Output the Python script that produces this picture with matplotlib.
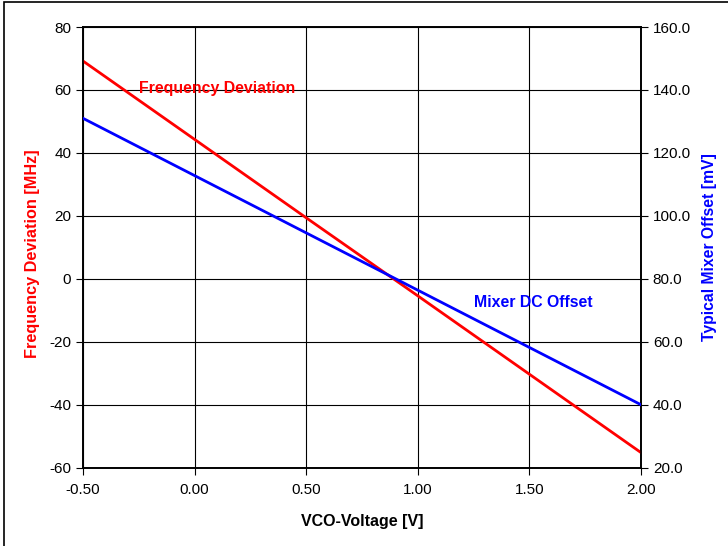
import matplotlib
matplotlib.use("Agg")
import matplotlib.pyplot as plt
from matplotlib.patches import Rectangle

# ---------------------------------------------------------------------------
# Data
# ---------------------------------------------------------------------------
vco_voltage = [-0.50, 0.00, 0.50, 1.00, 1.50, 2.00]
freq_deviation = [69.2, 44.3, 19.4, -5.4, -30.3, -55.2]      # MHz
mixer_offset = [131.0, 112.8, 94.6, 76.4, 58.2, 40.0]        # mV

x_ticks = [-0.5, 0.0, 0.5, 1.0, 1.5, 2.0]
left_ticks = [-60, -40, -20, 0, 20, 40, 60, 80]
right_ticks = [20, 40, 60, 80, 100, 120, 140, 160]

plt.rcParams["font.family"] = ["Liberation Sans", "DejaVu Sans"]
plt.rcParams["axes.unicode_minus"] = False

fig = plt.figure(figsize=(7.28, 5.46), dpi=100)
ax = fig.add_axes([0.114, 0.1434, 0.7665, 0.8071])
ax2 = ax.twinx()

ax.plot(vco_voltage, freq_deviation, color="#ff0000", lw=2, zorder=3)
ax2.plot(vco_voltage, mixer_offset, color="#0000ff", lw=2, zorder=3)

ax.set_xlim(-0.5, 2.0)
ax.set_ylim(-60, 80)
ax2.set_ylim(20, 160)

ax.set_xticks(x_ticks)
ax.set_xticklabels([f"{v:.2f}" for v in x_ticks])
ax.set_yticks(left_ticks)
ax2.set_yticks(right_ticks)
ax2.set_yticklabels([f"{v:.1f}" for v in right_ticks])

ax.grid(True, color="black", lw=0.8)
ax.set_axisbelow(True)
for a in (ax, ax2):
    a.tick_params(direction="out", length=5, width=0.8, labelsize=11, colors="black")
    for s in a.spines.values():
        s.set_linewidth(1.2)

ax.tick_params(axis="x", pad=6)

ax.set_xlabel("VCO-Voltage [V]", fontsize=11.5, fontweight="bold", labelpad=12)
ax.set_ylabel("Frequency Deviation [MHz]", fontsize=11.7, fontweight="bold",
              color="#ff0000")
ax.yaxis.set_label_coords(-0.077, 0.486)
ax2.set_ylabel("Typical Mixer Offset [mV]", fontsize=11.3, fontweight="bold",
               color="#0000ff", labelpad=8)

ax.text(-0.25, 60.5, "Frequency Deviation", color="#ff0000", fontsize=11.4,
        fontweight="bold", va="center", ha="left")
ax.text(1.25, -7.5, "Mixer DC Offset", color="#0000ff", fontsize=11.4,
        fontweight="bold", va="center", ha="left")

# outer chart frame (only left/top edges visible in the reference)
fig.patches.append(Rectangle((0.006, -0.1), 1.1, 1.097, transform=fig.transFigure,
                             fill=False, edgecolor="black", lw=1.2))

fig.savefig("out.png", dpi=100)
